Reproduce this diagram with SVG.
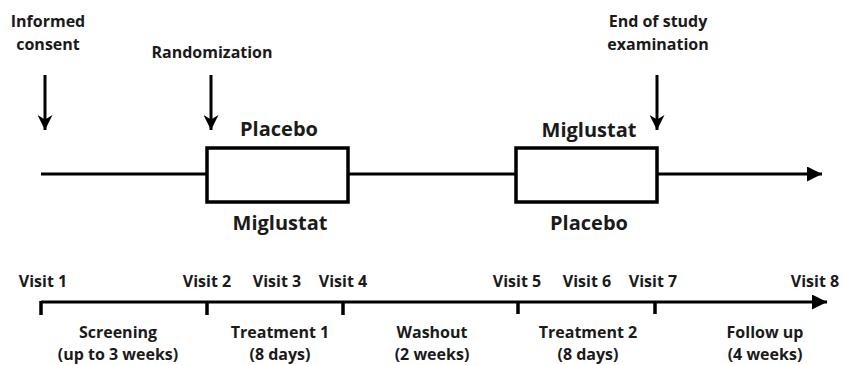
<svg xmlns="http://www.w3.org/2000/svg" width="845" height="365" viewBox="0 0 845 365">
<defs>
<style>
text{font-family:"Open Sans","Liberation Sans",Arial,sans-serif;font-weight:bold;fill:#1a1a1a;text-anchor:middle}
.s{font-size:16px}
.l{font-size:20px}
.ln{stroke:#000;stroke-width:3;fill:none}
.box{stroke:#000;stroke-width:3.5;fill:#fff}
.tk{stroke:#000;stroke-width:3.5}
</style>
<marker id="ah" viewBox="0 0 10 10" refX="10" refY="5" markerWidth="5" markerHeight="5" markerUnits="strokeWidth" orient="auto">
<path d="M0,0 L10,5 L0,10 Z" fill="#000"/>
</marker>
<marker id="ad" viewBox="0 0 10 10" refX="10" refY="5" markerWidth="5" markerHeight="5" markerUnits="strokeWidth" orient="auto">
<path d="M0,0 L10,5 L0,10 L3,5 Z" fill="#000"/>
</marker>
</defs>
<g id="connectors">
<line class="ln" x1="41" y1="174" x2="207" y2="174"/>
<line class="ln" x1="348" y1="174" x2="516" y2="174"/>
<line class="ln" x1="657" y1="174" x2="822" y2="174" marker-end="url(#ah)"/>
<line class="ln" x1="45" y1="75" x2="45" y2="130" marker-end="url(#ad)"/>
<line class="ln" x1="211" y1="75" x2="211" y2="130" marker-end="url(#ad)"/>
<line class="ln" x1="657" y1="75" x2="657" y2="130" marker-end="url(#ad)"/>
<line class="ln" x1="41" y1="302" x2="827" y2="302" stroke-width="3.5" marker-end="url(#ah)"/>
<line class="tk" x1="41" y1="301" x2="41" y2="315"/>
<line class="tk" x1="207" y1="301" x2="207" y2="315"/>
<line class="tk" x1="343" y1="301" x2="343" y2="315"/>
<line class="tk" x1="518" y1="301" x2="518" y2="314"/>
<line class="tk" x1="655" y1="301" x2="655" y2="314"/>
</g>
<g id="informed"><text class="s" x="48" y="27">Informed</text><text class="s" x="48" y="50">consent</text></g>
<g id="randomization"><text class="s" x="212" y="58">Randomization</text></g>
<g id="endofstudy"><text class="s" x="658" y="27">End of study</text><text class="s" x="658" y="50">examination</text></g>
<g id="period1"><rect class="box" x="207" y="148" width="141" height="54"/><text class="l" x="279" y="136">Placebo</text><text class="l" x="280" y="230">Miglustat</text></g>
<g id="period2"><rect class="box" x="516" y="148" width="141" height="54"/><text class="l" x="589" y="137">Miglustat</text><text class="l" x="589" y="230">Placebo</text></g>
<g id="visits">
<text class="s" x="43" y="287">Visit 1</text>
<text class="s" x="207" y="287">Visit 2</text>
<text class="s" x="277" y="287">Visit 3</text>
<text class="s" x="343" y="287">Visit 4</text>
<text class="s" x="517" y="287">Visit 5</text>
<text class="s" x="587" y="287">Visit 6</text>
<text class="s" x="653" y="287">Visit 7</text>
<text class="s" x="815" y="287">Visit 8</text>
</g>
<g id="phases">
<text class="s" x="118" y="338">Screening</text><text class="s" x="118" y="360">(up to 3 weeks)</text>
<text class="s" x="280" y="338">Treatment 1</text><text class="s" x="280" y="360">(8 days)</text>
<text class="s" x="432" y="338">Washout</text><text class="s" x="432" y="360">(2 weeks)</text>
<text class="s" x="588" y="338">Treatment 2</text><text class="s" x="588" y="360">(8 days)</text>
<text class="s" x="765" y="338">Follow up</text><text class="s" x="765" y="360">(4 weeks)</text>
</g>
</svg>
